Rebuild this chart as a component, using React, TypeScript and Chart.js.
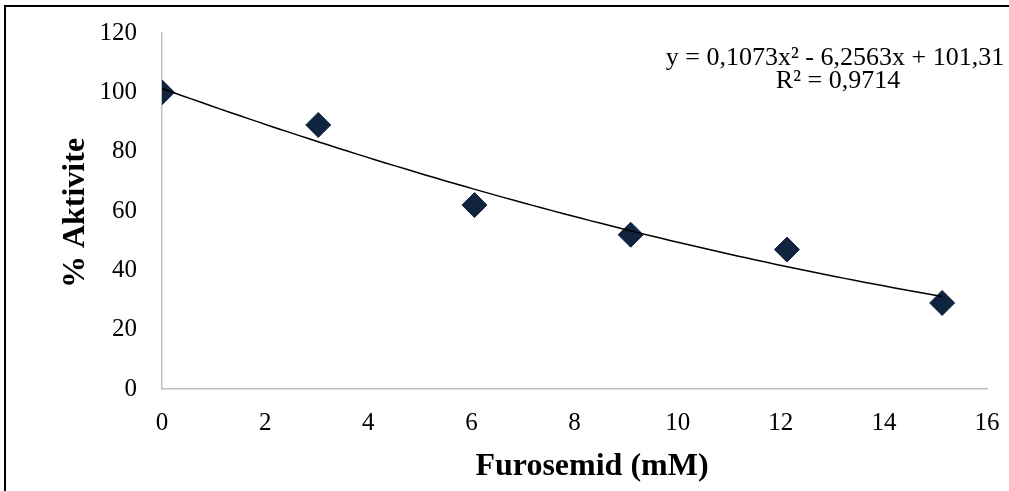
import React, { useEffect, useRef } from "react";
import { Chart, registerables } from "chart.js";

Chart.register(...registerables);

const concentrations = [0, 3.03, 6.06, 9.09, 12.12, 15.13];
const activity = [100, 89, 62, 52, 47, 29];
const xTicks = [0, 2, 4, 6, 8, 10, 12, 14, 16];
const yTicks = [0, 20, 40, 60, 80, 100, 120];
// Excel polynomial trendline coefficients as printed on the chart: a*x^2 + b*x + c
const trendCoeffs = [0.1073, -6.2563, 101.31];
const equationLines = ["y = 0,1073x² - 6,2563x + 101,31", "R² = 0,9714"];
const xTitle = "Furosemid (mM)";
const yTitle = "% Aktivite";

const FONT = "'Liberation Serif', 'Times New Roman', serif";

function trendPoints() {
  const pts: { x: number; y: number }[] = [];
  const xMax = concentrations[concentrations.length - 1];
  const n = 80;
  for (let i = 0; i <= n; i++) {
    const x = (xMax * i) / n;
    const y = trendCoeffs[0] * x * x + trendCoeffs[1] * x + trendCoeffs[2];
    pts.push({ x, y });
  }
  return pts;
}

const textPlugin = {
  id: "extraText",
  afterDraw(chart: any) {
    const ctx = chart.ctx;
    const area = chart.chartArea;
    ctx.save();
    ctx.fillStyle = "#000";
    // equation
    ctx.font = `26px ${FONT}`;
    ctx.textAlign = "center";
    ctx.textBaseline = "alphabetic";
    ctx.fillText(equationLines[0], 835, 65);
    ctx.fillText(equationLines[1], 838, 88);
    // x title
    ctx.font = `bold 32px ${FONT}`;
    ctx.fillText(xTitle, 592, 475);
    // y title
    ctx.translate(84, (area.top + area.bottom) / 2 + 2);
    ctx.rotate(-Math.PI / 2);
    ctx.fillText(yTitle, 0, 0);
    ctx.restore();
  },
};

export default function App() {
  const ref = useRef<HTMLCanvasElement | null>(null);

  useEffect(() => {
    if (!ref.current) return;
    const chart = new Chart(ref.current, {
      type: "scatter",
      data: {
        datasets: [
          {
            label: "Aktivite",
            data: concentrations.map((x, i) => ({ x, y: activity[i] })),
            pointStyle: "rectRot",
            pointRadius: 12.5,
            pointHoverRadius: 12.5,
            backgroundColor: "#10243F",
            borderColor: "#10243F",
            borderWidth: 1,
            showLine: false,
            order: 2,
          },
          {
            label: "Trend",
            data: trendPoints(),
            showLine: true,
            pointRadius: 0,
            borderColor: "#000000",
            borderWidth: 1.5,
            fill: false,
            order: 1,
          },
        ],
      },
      options: {
        animation: false,
        responsive: false,
        maintainAspectRatio: false,
        layout: { padding: { top: 33, right: 22, left: 0, bottom: 0 } },
        plugins: {
          legend: { display: false },
          tooltip: { enabled: false },
          title: { display: false },
        },
        scales: {
          x: {
            type: "linear",
            min: 0,
            max: 16,
            afterFit: (s: any) => {
              s.height = 102;
              s.paddingLeft = 0;
              s.paddingRight = 0;
            },
            afterBuildTicks: (s: any) => {
              s.ticks = xTicks.map((v) => ({ value: v }));
            },
            grid: { display: false, drawTicks: false },
            border: { display: true, color: "#BFBFBF", width: 1.5 },
            ticks: {
              font: { family: FONT, size: 25 },
              color: "#000",
              padding: 19,
              maxRotation: 0,
            },
          },
          y: {
            type: "linear",
            min: 0,
            max: 120,
            afterFit: (s: any) => {
              s.width = 162;
              s.paddingTop = 0;
              s.paddingBottom = 0;
            },
            afterBuildTicks: (s: any) => {
              s.ticks = yTicks.map((v) => ({ value: v }));
            },
            grid: { display: false, drawTicks: false },
            border: { display: true, color: "#BFBFBF", width: 1.5 },
            ticks: {
              font: { family: FONT, size: 25 },
              color: "#000",
              padding: 25,
            },
          },
        },
      },
      plugins: [textPlugin],
    });
    return () => chart.destroy();
  }, []);

  return (
    <div style={{ position: "fixed", left: 0, top: 0, width: 1009, height: 491, background: "#fff", overflow: "hidden" }}>
      <canvas ref={ref} width={1009} height={491} style={{ position: "absolute", left: 0, top: 0, width: 1009, height: 491 }} />
      <div
        style={{
          position: "absolute",
          left: 4,
          top: 5,
          width: 1010,
          height: 490,
          borderTop: "2px solid #000",
          borderLeft: "2px solid #000",
          pointerEvents: "none",
        }}
      />
    </div>
  );
}
